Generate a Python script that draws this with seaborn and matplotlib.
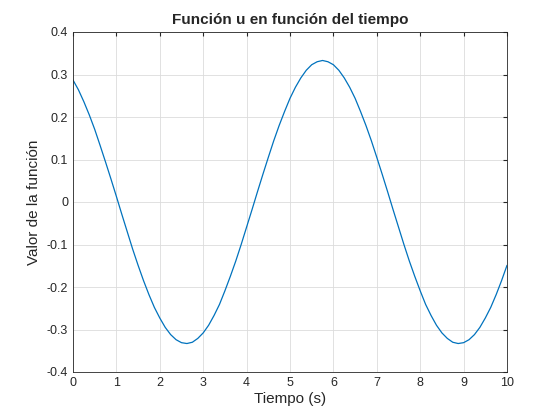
import seaborn as sns
import matplotlib.pyplot as plt
import pandas as pd

# values, every 0.125 s
tiempo = [i * 0.125 for i in range(81)]
valor = [0.287, 0.264, 0.236, 0.205, 0.171, 0.133, 0.094, 0.054, 0.013, -0.029,
         -0.070, -0.111, -0.149, -0.185, -0.218, -0.248, -0.273, -0.295, -0.312, -0.324,
         -0.331, -0.333, -0.330, -0.321, -0.308, -0.290, -0.267, -0.241, -0.209, -0.175,
         -0.139, -0.100, -0.059, -0.018, 0.024, 0.065, 0.105, 0.144, 0.180, 0.213,
         0.244, 0.270, 0.292, 0.310, 0.323, 0.330, 0.333, 0.330, 0.323, 0.310,
         0.292, 0.270, 0.244, 0.213, 0.180, 0.144, 0.105, 0.065, 0.024, -0.018,
         -0.059, -0.100, -0.139, -0.175, -0.209, -0.241, -0.267, -0.290, -0.308, -0.321,
         -0.330, -0.333, -0.331, -0.324, -0.312, -0.295, -0.273, -0.248, -0.218, -0.185,
         -0.149]
x_ticks = list(range(0, 11))
y_ticks = [-0.4, -0.3, -0.2, -0.1, 0, 0.1, 0.2, 0.3, 0.4]
y_labels = ['-0.4', '-0.3', '-0.2', '-0.1', '0', '0.1', '0.2', '0.3', '0.4']

sns.set_style('white')
plt.rcParams['font.family'] = ['Liberation Sans', 'DejaVu Sans']

df = pd.DataFrame({'t': tiempo, 'u': valor})
fig = plt.figure(figsize=(5.6, 4.2), dpi=100)
ax = fig.add_axes([73 / 560, 48 / 420, 434 / 560, 340 / 420])
sns.lineplot(data=df, x='t', y='u', ax=ax, color='#0072BD', linewidth=0.9)

ax.set_xlim(0, 10)
ax.set_ylim(-0.4, 0.4)
ax.set_xticks(x_ticks)
ax.set_yticks(y_ticks)
ax.set_yticklabels(y_labels)
ax.grid(True, color='#dcdcdc', linewidth=0.6)
ax.tick_params(direction='in', length=3, labelsize=9, colors='#262626', top=True, right=True)
for s in ax.spines.values():
    s.set_color('#262626')
    s.set_linewidth(0.6)
ax.set_xlabel('Tiempo (s)', fontsize=11, color='#262626', labelpad=2)
ax.set_ylabel('Valor de la función', fontsize=11, color='#262626')
ax.set_title('Función u en función del tiempo', fontsize=11, fontweight='bold', pad=6)

fig.savefig('out.png', dpi=100)
